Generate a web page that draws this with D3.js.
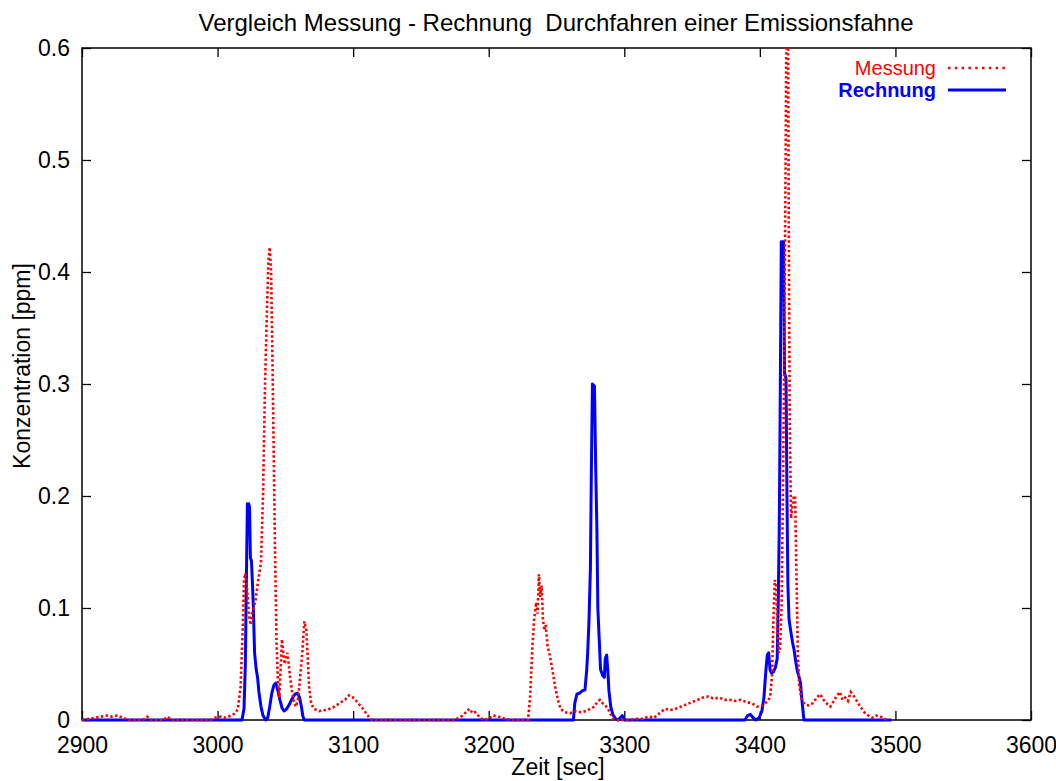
<!DOCTYPE html>
<html>
<head>
<meta charset="utf-8">
<script src="https://cdn.jsdelivr.net/npm/d3@7"></script>
<style>
  html, body { margin: 0; padding: 0; background: #fff; }
  svg { display: block; font-family: "Liberation Sans", Arial, sans-serif; }
</style>
</head>
<body>
<svg id="chart" width="1056" height="781"></svg>
<script>
// Measured concentration [time (s), ppm]
const messung = [
  [2900,0.0],[2905,0.001],[2910,0.002],[2914,0.003],[2918,0.004],[2922,0.003],[2926,0.004],[2930,0.002],
  [2935,0.0],[2945,0.0],[2948,0.003],[2951,0.0],[2960,0.0],[2963,0.003],[2966,0.0],[2995,0.0],
  [2998,0.002],[3002,0.003],[3006,0.002],[3010,0.004],[3013,0.006],[3015,0.01],[3017,0.03],
  [3018.5,0.08],[3019.5,0.125],[3020.5,0.131],[3021.5,0.12],[3022.5,0.105],[3023.5,0.09],[3024.5,0.085],
  [3025.5,0.095],[3026.5,0.1],[3028,0.107],[3030,0.125],[3032,0.14],[3033.5,0.2],[3035,0.3],
  [3036.5,0.37],[3037.5,0.41],[3038.5,0.422],[3039.5,0.4],[3040.5,0.32],[3041.5,0.23],[3042.5,0.14],
  [3043.5,0.07],[3044.5,0.035],[3045.5,0.02],[3046.5,0.045],[3047.5,0.072],[3048.5,0.06],[3049.5,0.05],
  [3050.5,0.055],[3051.5,0.06],[3052.5,0.05],[3053.5,0.038],[3055,0.025],[3056.5,0.015],[3058,0.012],
  [3059.5,0.02],[3061,0.04],[3062.5,0.06],[3064,0.088],[3065.5,0.08],[3066.5,0.055],[3067.5,0.03],
  [3069,0.015],[3071,0.01],[3075,0.008],[3080,0.009],[3085,0.011],[3090,0.015],[3094,0.018],
  [3097,0.022],[3100,0.02],[3103,0.016],[3106,0.012],[3109,0.007],[3112,0.002],[3114,0.0],
  [3175,0.0],[3178,0.002],[3181,0.004],[3184,0.008],[3186,0.01],[3188,0.006],[3190,0.007],[3193,0.003],
  [3196,0.0],[3200,0.001],[3203,0.004],[3207,0.003],[3212,0.001],[3216,0.0],[3229,0.0],
  [3230.5,0.02],[3232,0.06],[3233.5,0.09],[3235,0.105],[3236,0.095],[3237,0.13],[3238,0.11],[3239,0.12],
  [3240,0.09],[3241,0.08],[3242,0.085],[3243.5,0.065],[3245,0.058],[3247,0.045],[3249,0.03],[3251,0.018],
  [3253,0.01],[3256,0.007],[3260,0.006],[3264,0.008],[3268,0.007],[3272,0.008],[3275,0.01],[3278,0.012],
  [3280,0.016],[3282,0.018],[3284,0.015],[3286,0.013],[3288,0.01],[3290,0.005],[3292,0.001],[3294,0.0],
  [3303,0.0],[3308,0.001],[3313,0.001],[3318,0.003],[3322,0.002],[3326,0.006],[3330,0.01],[3334,0.009],
  [3338,0.01],[3342,0.012],[3346,0.014],[3350,0.016],[3354,0.018],[3358,0.02],[3362,0.021],[3366,0.019],
  [3370,0.02],[3374,0.018],[3378,0.018],[3382,0.017],[3386,0.018],[3390,0.016],[3394,0.015],[3398,0.012],
  [3402,0.013],[3405,0.016],[3407.5,0.02],[3409,0.04],[3410,0.09],[3411,0.125],[3412,0.12],[3413,0.08],
  [3414,0.06],[3415,0.065],[3416,0.1],[3417,0.2],[3418,0.33],[3419,0.5],[3419.8,0.68],[3420.6,0.68],
  [3421.3,0.45],[3422,0.27],[3423,0.18],[3424,0.19],[3425,0.2],[3426,0.2],[3427,0.13],[3428,0.06],
  [3429,0.032],[3430.5,0.02],[3433,0.014],[3436,0.013],[3439,0.015],[3442,0.02],[3444.5,0.023],
  [3447,0.018],[3450,0.014],[3452,0.012],[3455,0.018],[3457,0.022],[3459,0.025],[3461,0.018],[3463,0.02],
  [3465,0.017],[3467,0.025],[3469,0.022],[3471,0.018],[3474,0.012],[3477,0.007],[3480,0.004],[3483,0.002],
  [3486,0.004],[3489,0.003],[3492,0.001],[3495,0.0]
];

// Computed concentration [time (s), ppm]
const rechnung = [
  [2900,0.0],[3018,0.0],[3019.5,0.01],[3020.5,0.05],[3021.3,0.13],[3022,0.193],[3023,0.193],[3023.6,0.19],
  [3024.2,0.145],[3025,0.142],[3025.8,0.12],[3026.4,0.1],[3027.3,0.06],[3028.5,0.045],[3029.5,0.038],
  [3030.5,0.025],[3032,0.012],[3033.5,0.004],[3035.5,0.0],[3037,0.002],[3038.5,0.012],[3040,0.024],
  [3041.5,0.031],[3043,0.033],[3044.5,0.026],[3046,0.018],[3047.5,0.011],[3049,0.008],[3051,0.01],
  [3053,0.014],[3055,0.019],[3057,0.023],[3059,0.024],[3060.5,0.02],[3061.8,0.012],[3063,0.003],[3064,0.0],
  [3262.5,0.0],[3263.5,0.015],[3265,0.023],[3267,0.024],[3269,0.026],[3271,0.027],[3272.3,0.045],
  [3273,0.06],[3274,0.09],[3275,0.135],[3275.7,0.22],[3276.5,0.3],[3278,0.298],[3279,0.22],[3279.8,0.17],
  [3280.5,0.1],[3281.4,0.075],[3282.5,0.045],[3284,0.04],[3285.3,0.038],[3286,0.055],[3287,0.058],
  [3287.8,0.045],[3288.7,0.026],[3290,0.012],[3291.5,0.005],[3293.5,0.001],[3295.5,0.0],[3297,0.002],
  [3298.5,0.004],[3300,0.0],[3389,0.0],[3391,0.004],[3393,0.005],[3395,0.002],[3397,0.0],[3399.5,0.002],
  [3401.5,0.008],[3403,0.02],[3404.5,0.045],[3405.5,0.058],[3406.5,0.06],[3407.5,0.045],[3408.5,0.042],
  [3410,0.043],[3411.5,0.047],[3412.8,0.055],[3413.5,0.1],[3414.3,0.17],[3415,0.28],[3415.8,0.427],
  [3417.5,0.427],[3418.2,0.31],[3419.3,0.305],[3420,0.2],[3420.7,0.12],[3421.5,0.09],[3422.7,0.08],
  [3424,0.07],[3425.2,0.063],[3426.5,0.052],[3427.6,0.044],[3429,0.038],[3430,0.033],[3431,0.018],
  [3432.5,0.0],[3497,0.0]
];

const xTicks = [2900, 3000, 3100, 3200, 3300, 3400, 3500, 3600];
const yTicks = [0, 0.1, 0.2, 0.3, 0.4, 0.5, 0.6];
const titleText = "Vergleich Messung - Rechnung  Durchfahren einer Emissionsfahne";
const xLabel = "Zeit [sec]";
const yLabel = "Konzentration [ppm]";
const seriesNames = ["Messung", "Rechnung"];

const plotLeft = 82, plotRight = 1031, plotTop = 48, plotBottom = 720;
const svg = d3.select("#chart");

const x = d3.scaleLinear().domain([2900, 3600]).range([plotLeft, plotRight]);
const y = d3.scaleLinear().domain([0, 0.6]).range([plotBottom, plotTop]);

const tickLen = 9;

// Inward ticks on all four sides, plus labels on bottom and left
const xAxisB = d3.axisBottom(x).tickValues(xTicks).tickSize(-tickLen).tickPadding(17).tickFormat(d3.format("d"));
const xAxisT = d3.axisTop(x).tickValues(xTicks).tickSize(-tickLen).tickFormat("");
const yAxisL = d3.axisLeft(y).tickValues(yTicks).tickSize(-tickLen).tickPadding(12)
  .tickFormat(d => d === 0 ? "0" : d3.format(".1f")(d));
const yAxisR = d3.axisRight(y).tickValues(yTicks).tickSize(-tickLen).tickFormat("");

function styleAxis(g) {
  g.select(".domain").remove();
  g.selectAll(".tick line").attr("stroke", "#000").attr("stroke-width", 1.3);
  g.selectAll(".tick text").attr("fill", "#000").attr("font-size", 23)
    .attr("font-family", "Liberation Sans, Arial, sans-serif");
}

svg.append("g").attr("transform", `translate(0,${plotBottom})`).call(xAxisB).call(styleAxis);
svg.append("g").attr("transform", `translate(0,${plotTop})`).call(xAxisT).call(styleAxis);
svg.append("g").attr("transform", `translate(${plotLeft},0)`).call(yAxisL).call(styleAxis);
svg.append("g").attr("transform", `translate(${plotRight},0)`).call(yAxisR).call(styleAxis);

// Frame
svg.append("rect")
  .attr("x", plotLeft).attr("y", plotTop)
  .attr("width", plotRight - plotLeft).attr("height", plotBottom - plotTop)
  .attr("fill", "none").attr("stroke", "#000").attr("stroke-width", 1.5);

// Clip region for the data
svg.append("clipPath").attr("id", "plotClip")
  .append("rect").attr("x", plotLeft).attr("y", plotTop)
  .attr("width", plotRight - plotLeft).attr("height", plotBottom - plotTop + 2);

const line = d3.line().x(d => x(d[0])).y(d => y(d[1]));
const plot = svg.append("g").attr("clip-path", "url(#plotClip)");

plot.append("path").datum(rechnung)
  .attr("d", line).attr("fill", "none")
  .attr("stroke", "#0000ff").attr("stroke-width", 3).attr("stroke-linejoin", "round");

plot.append("path").datum(messung)
  .attr("d", line).attr("fill", "none")
  .attr("stroke", "#ff0000").attr("stroke-width", 2.6)
  .attr("stroke-dasharray", "2.4,2.4");

// Title and axis labels
svg.append("text").attr("x", 556).attr("y", 31).attr("text-anchor", "middle")
  .attr("font-size", 24).attr("fill", "#000").style("white-space", "pre").text(titleText);
svg.append("text").attr("x", 558).attr("y", 775).attr("text-anchor", "middle")
  .attr("font-size", 23).attr("fill", "#000").text(xLabel);
svg.append("text").attr("transform", "translate(30,366) rotate(-90)").attr("text-anchor", "middle")
  .attr("font-size", 23).attr("fill", "#000").text(yLabel);

// Legend
const legend = svg.append("g");
legend.append("text").attr("x", 936).attr("y", 75).attr("text-anchor", "end")
  .attr("font-size", 20).attr("fill", "#ff0000").text(seriesNames[0]);
legend.append("line").attr("x1", 948).attr("x2", 1006).attr("y1", 68).attr("y2", 68)
  .attr("stroke", "#ff0000").attr("stroke-width", 2.5).attr("stroke-dasharray", "2.5,4.3");
legend.append("text").attr("x", 936).attr("y", 97).attr("text-anchor", "end")
  .attr("font-size", 20).attr("font-weight", "bold").attr("fill", "#0000ff").text(seriesNames[1]);
legend.append("line").attr("x1", 948).attr("x2", 1006).attr("y1", 90).attr("y2", 90)
  .attr("stroke", "#0000ff").attr("stroke-width", 3);
</script>
</body>
</html>
